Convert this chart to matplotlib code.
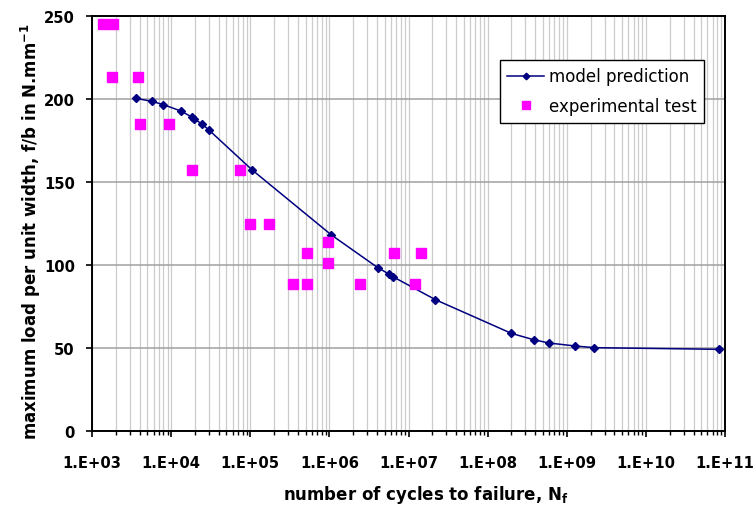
import numpy as np
import matplotlib
matplotlib.use("Agg")
import matplotlib.pyplot as plt
from matplotlib.ticker import FixedLocator, FuncFormatter, MultipleLocator, NullFormatter

# model prediction (cycles, load per unit width)
model_n = [3.6e3, 5.7e3, 8.0e3, 1.32e4, 1.82e4, 1.93e4, 2.44e4, 3.04e4, 1.06e5,
           1.06e6, 4.09e6, 5.64e6, 6.44e6, 2.19e7, 2.0e8, 3.8e8, 6.0e8, 1.28e9,
           2.24e9, 8.5e10]
model_f = [200.4, 198.6, 196.6, 192.8, 189.2, 188.0, 185.1, 181.1, 157.2,
           118.1, 98.4, 94.6, 92.8, 79.1, 58.8, 55.0, 53.0, 51.2, 50.2, 49.2]

# experimental tests
exp_n = [1.39e3, 1.82e3, 1.77e3, 3.78e3, 4.09e3, 9.5e3, 1.84e4, 7.4e4, 9.9e4,
         1.71e5, 5.2e5, 9.7e5, 9.7e5, 3.44e5, 5.2e5, 2.44e6, 6.6e6, 1.44e7, 1.2e7]
exp_f = [245, 245, 213, 213, 185, 185, 157, 157, 125, 125, 107, 114, 101,
         88.7, 88.7, 88.7, 107, 107, 88.7]

decades = np.arange(3, 12)

fig = plt.figure(figsize=(7.55, 5.06), dpi=100)
ax = fig.add_axes([92 / 755, 74 / 506, 633 / 755, 415 / 506])

ax.plot(model_n, model_f, color="#000080", lw=1.1, marker="D", ms=4.2,
        label="model prediction", zorder=3)
ax.plot(exp_n, exp_f, ls="none", marker="s", ms=6.6, color="#ff00ff",
        label="experimental test", zorder=4)

ax.set_xscale("log")
ax.set_xlim(1e3, 1e11)
ax.set_ylim(0, 250)
majors = 10.0 ** decades
minors = [m * 10.0 ** d for d in decades[:-1] for m in range(2, 10)]
ax.xaxis.set_major_locator(FixedLocator(majors))
ax.xaxis.set_minor_locator(FixedLocator(minors))
ax.xaxis.set_minor_formatter(NullFormatter())
ax.xaxis.set_major_formatter(FuncFormatter(lambda v, p: "1.E+%02d" % round(np.log10(v))))
ax.yaxis.set_major_locator(MultipleLocator(50))

ax.grid(True, which="major", axis="y", color="#a0a0a0", lw=1.1, zorder=0)
ax.grid(True, which="both", axis="x", color="#cccccc", lw=0.9, zorder=0)
ax.set_axisbelow(True)

for s in ax.spines.values():
    s.set_linewidth(1.4)
    s.set_color("black")

ax.tick_params(axis="x", which="major", direction="out", length=4.3, width=1.2,
               pad=13, labelsize=10.6)
ax.tick_params(axis="x", which="minor", direction="out", length=2.7, width=1.0)
ax.tick_params(axis="y", direction="out", length=4.3, width=1.2, pad=8,
               labelsize=10.6)
for lab in ax.get_xticklabels() + ax.get_yticklabels():
    lab.set_fontweight("bold")

ax.set_xlabel("number of cycles to failure, N$_\\mathregular{f}$",
              fontsize=12, fontweight="bold", va="center", ha="center")
ax.xaxis.set_label_coords(0.528, -0.153)
ax.set_ylabel("maximum load per unit width, f/b in N.mm$^\\mathregular{-1}$",
              fontsize=12, fontweight="bold", va="center", ha="center")
ax.yaxis.set_label_coords(-0.096, 0.484)

leg = ax.legend(loc="upper right", bbox_to_anchor=(0.967, 0.894), borderaxespad=0,
                fontsize=12, numpoints=1, handlelength=2.2, handletextpad=0.3,
                labelspacing=0.7, borderpad=0.45, fancybox=False, framealpha=1,
                edgecolor="black", markerscale=0.8)
leg.get_frame().set_linewidth(1.0)

fig.savefig("out.png", dpi=100)
